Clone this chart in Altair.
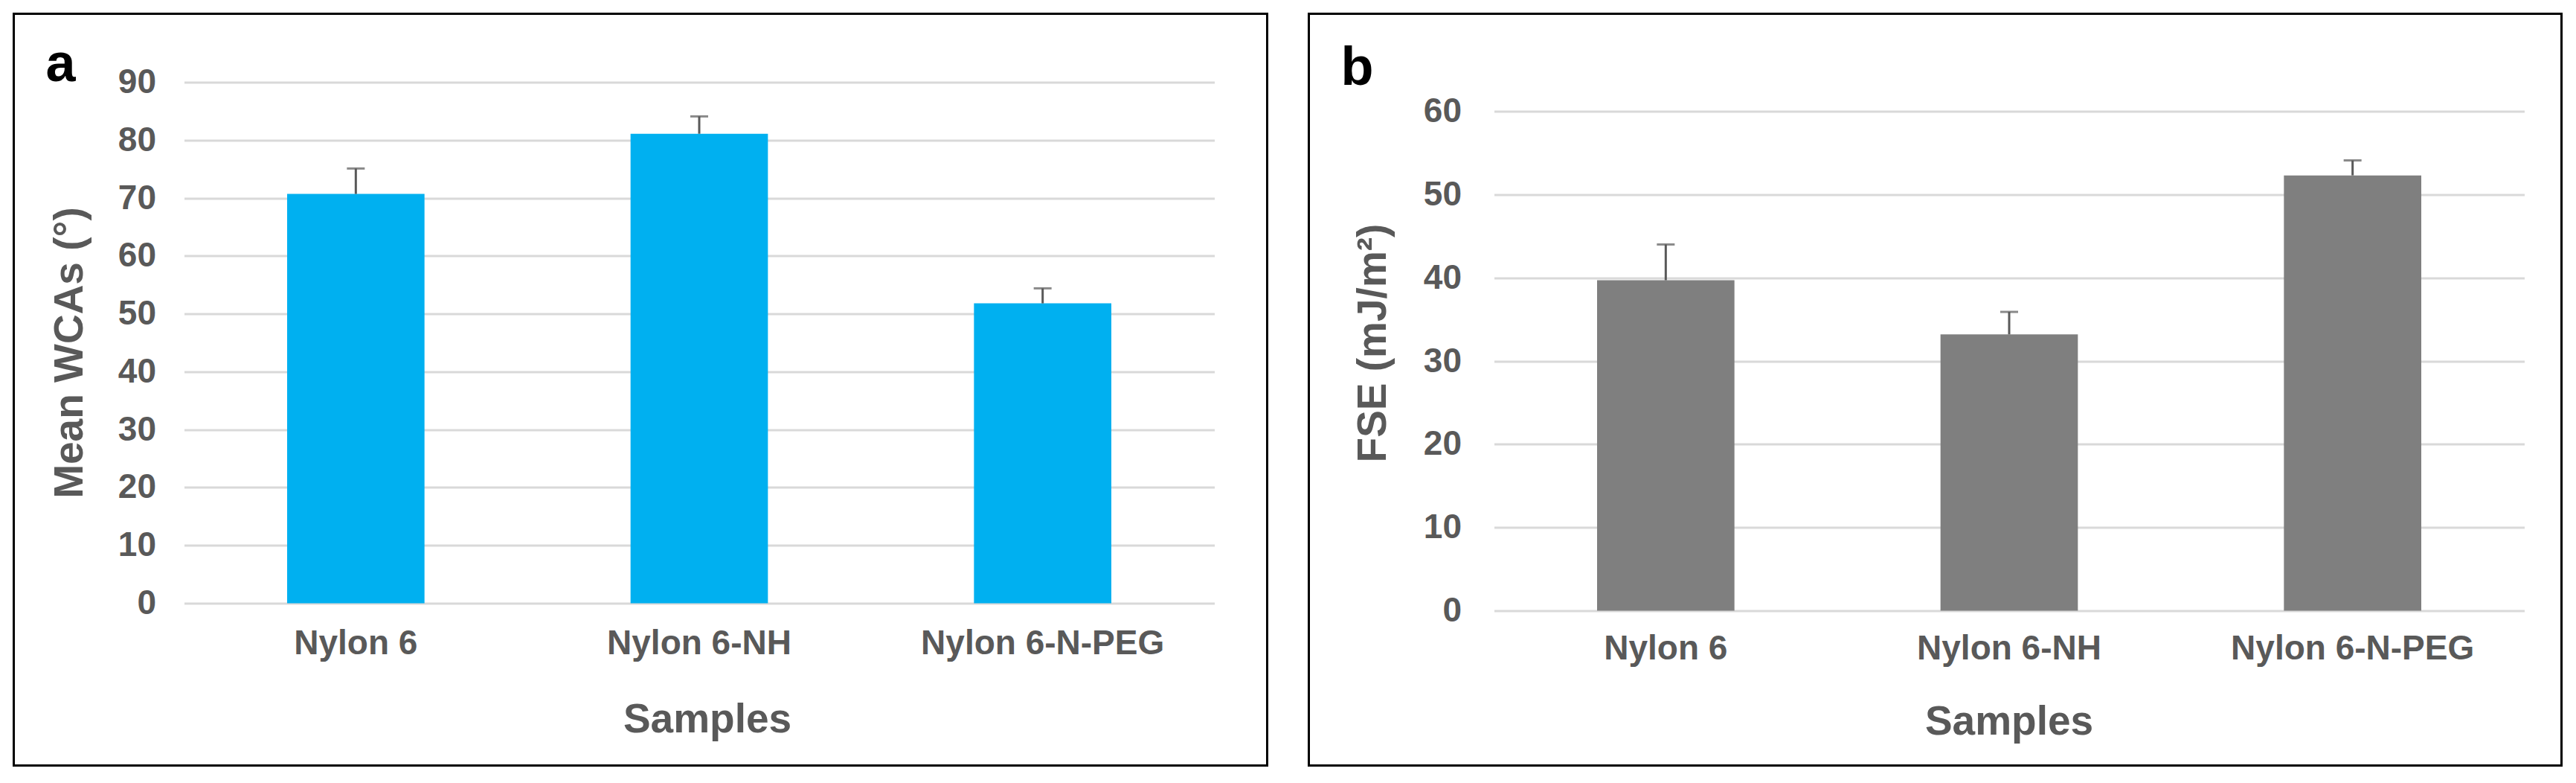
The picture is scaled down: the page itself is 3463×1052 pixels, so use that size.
import altair as alt
import pandas as pd

# ---- data ----
samples = ["Nylon 6", "Nylon 6-NH", "Nylon 6-N-PEG"]
wca_mean = [70.7, 81.1, 51.8]
wca_err = [4.4, 3.0, 2.6]
fse_mean = [39.7, 33.2, 52.3]
fse_err = [4.3, 2.7, 1.8]
wca_ticks = [0, 10, 20, 30, 40, 50, 60, 70, 80, 90]
fse_ticks = [0, 10, 20, 30, 40, 50, 60]

FONT = "Liberation Sans"
GREY = "#595959"
GRID = "#D9D9D9"
PLOT_W = 1385


def panel(means, errs, ticks, dmax, height, color, ytitle, letter,
          ylabpad, ytitle_x, ytitle_y, xlabpad, xtitle_x, xtitle_y,
          frame, letter_xy):
    df = pd.DataFrame({
        "Samples": samples,
        "value": means,
        "upper": [m + e for m, e in zip(means, errs)],
    })
    xenc = alt.X(
        "Samples:N", sort=samples,
        scale=alt.Scale(paddingInner=0.6, paddingOuter=0.3),
        axis=alt.Axis(
            title="Samples", labelAngle=0, ticks=False, domain=False,
            labelFont=FONT, labelFontSize=46, labelFontWeight="bold",
            labelColor=GREY, labelPadding=xlabpad, labelLimit=0,
            titleFont=FONT, titleFontSize=55, titleFontWeight="bold",
            titleColor=GREY, titleX=xtitle_x, titleY=xtitle_y,
            titleBaseline="alphabetic", titleAlign="center",
        ),
    )
    yenc = alt.Y(
        "value:Q",
        scale=alt.Scale(domain=[0, dmax], nice=False),
        axis=alt.Axis(
            title=ytitle, values=ticks, ticks=False, domain=False,
            grid=True, gridColor=GRID, gridWidth=3,
            labelFont=FONT, labelFontSize=46, labelFontWeight="bold",
            labelColor=GREY, labelPadding=ylabpad,
            titleFont=FONT, titleFontSize=55, titleFontWeight="bold",
            titleColor=GREY, titleX=ytitle_x, titleY=ytitle_y,
            titleAngle=270, titleBaseline="alphabetic", titleAlign="center",
        ),
    )
    base = alt.Chart(df)
    bars = base.mark_bar(color=color).encode(x=xenc, y=yenc)
    stems = base.mark_rule(color=GREY, strokeWidth=3).encode(
        x=alt.X("Samples:N", sort=samples), y="value:Q", y2="upper:Q")
    caps = base.mark_tick(color=GREY, size=24, thickness=3).encode(
        x=alt.X("Samples:N", sort=samples), y="upper:Q")
    one = pd.DataFrame({"k": [0]})
    box = alt.Chart(one).mark_rect(
        fill="white", fillOpacity=0, stroke="black", strokeWidth=3
    ).encode(
        x=alt.value(frame[0]), x2=alt.value(frame[1]),
        y=alt.value(frame[2]), y2=alt.value(frame[3]),
    )
    lab = alt.Chart(one).mark_text(
        text=letter, font=FONT, fontSize=72, fontWeight="bold",
        color="black", align="left", baseline="alphabetic",
    ).encode(x=alt.value(letter_xy[0]), y=alt.value(letter_xy[1]))
    return alt.layer(box, bars, stems, caps, lab).properties(
        width=PLOT_W, height=height)


pa = panel(wca_mean, wca_err, wca_ticks, 90, 700, "#00B0F0",
           "Mean WCAs (°)", "a",
           ylabpad=38, ytitle_x=-137, ytitle_y=363,
           xlabpad=32, xtitle_x=703, xtitle_y=173,
           frame=(-229, 1456, -92, 918), letter_xy=(-186, -2))

pb = panel(fse_mean, fse_err, fse_ticks, 63.49, 710, "#7F7F7F",
           "FSE (mJ/m²)", "b",
           ylabpad=44, ytitle_x=-146, ytitle_y=350,
           xlabpad=29, xtitle_x=692, xtitle_y=166,
           frame=(-249, 1435, -92, 918), letter_xy=(-206, 3))

chart = alt.hconcat(pa, pb, spacing=52).properties(
    padding={"left": 8.5, "top": 8.5, "right": 5, "bottom": 5}
).configure_view(stroke=None)

chart.save("out.html", embed_options={"renderer": "svg", "actions": False})
